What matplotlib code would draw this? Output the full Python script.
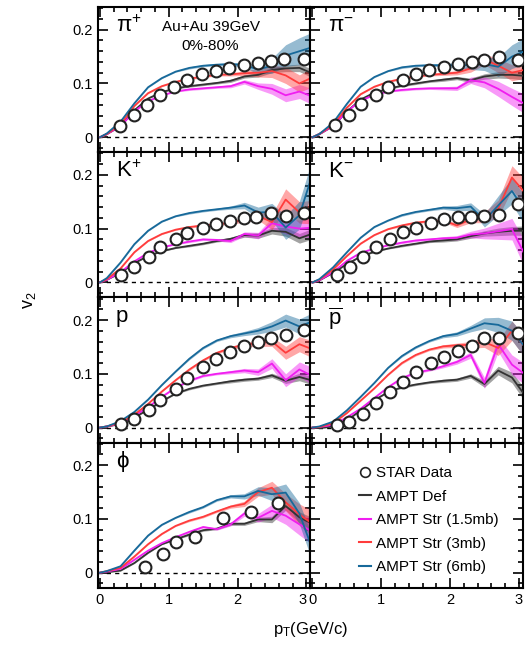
import matplotlib
matplotlib.use("Agg")
import matplotlib.pyplot as plt
from matplotlib.ticker import MultipleLocator, FuncFormatter
from matplotlib.lines import Line2D

plt.rcParams['font.family'] = ['Liberation Sans', 'DejaVu Sans']
plt.rcParams['mathtext.default'] = 'regular'

# model pT bins (GeV/c)
pt_model = [0.0, 0.1, 0.3, 0.5, 0.7, 0.9, 1.1, 1.3, 1.5, 1.7, 1.9, 2.1, 2.3, 2.5, 2.7, 2.9, 3.1]

low_err = [0.001, 0.001, 0.001, 0.001, 0.001, 0.001, 0.001, 0.002, 0.002, 0.002, 0.003]

# ---- pi+ ----
pip_pt = [0.29, 0.50, 0.68, 0.88, 1.07, 1.27, 1.49, 1.68, 1.88, 2.09, 2.30, 2.49, 2.68, 2.96]
pip_v2 = [0.021, 0.041, 0.060, 0.078, 0.093, 0.106, 0.117, 0.124, 0.128, 0.135, 0.138, 0.141, 0.146, 0.145]
pip_def = [0, 0.006, 0.021, 0.050, 0.072, 0.084, 0.091, 0.095, 0.098, 0.101, 0.105, 0.113, 0.116, 0.125, 0.128, 0.129, 0.118]
pip_s15 = [0, 0.006, 0.021, 0.048, 0.067, 0.078, 0.085, 0.089, 0.091, 0.093, 0.095, 0.103, 0.095, 0.090, 0.078, 0.085, 0.075]
pip_s3 = [0, 0.006, 0.024, 0.058, 0.082, 0.095, 0.103, 0.109, 0.113, 0.116, 0.117, 0.119, 0.120, 0.123, 0.115, 0.100, 0.112]
pip_s6 = [0, 0.007, 0.029, 0.063, 0.093, 0.110, 0.122, 0.129, 0.133, 0.135, 0.136, 0.134, 0.126, 0.133, 0.152, 0.160, 0.168]
pip_def_e = low_err + [0.003, 0.004, 0.005, 0.006, 0.007, 0.008]
pip_s15_e = low_err + [0.004, 0.006, 0.010, 0.012, 0.013, 0.015]
pip_s3_e = low_err + [0.004, 0.008, 0.012, 0.015, 0.016, 0.018]
pip_s6_e = low_err + [0.005, 0.008, 0.014, 0.020, 0.025, 0.028]

# ---- pi- ----
pim_pt = [0.33, 0.53, 0.71, 0.92, 1.10, 1.31, 1.51, 1.70, 1.91, 2.12, 2.32, 2.50, 2.71, 2.99]
pim_v2 = [0.022, 0.042, 0.062, 0.079, 0.094, 0.107, 0.118, 0.125, 0.131, 0.136, 0.140, 0.143, 0.150, 0.143]
pim_def = [0, 0.006, 0.021, 0.048, 0.070, 0.083, 0.090, 0.096, 0.100, 0.104, 0.107, 0.110, 0.106, 0.113, 0.116, 0.116, 0.114]
pim_s15 = [0, 0.006, 0.021, 0.048, 0.068, 0.079, 0.085, 0.088, 0.090, 0.091, 0.091, 0.091, 0.106, 0.102, 0.090, 0.075, 0.061]
pim_s3 = [0, 0.006, 0.023, 0.055, 0.080, 0.094, 0.103, 0.109, 0.113, 0.116, 0.118, 0.120, 0.128, 0.145, 0.133, 0.120, 0.126]
pim_s6 = [0, 0.006, 0.027, 0.062, 0.094, 0.112, 0.123, 0.130, 0.133, 0.134, 0.134, 0.134, 0.134, 0.136, 0.131, 0.150, 0.161]
pim_def_e = low_err + [0.003, 0.004, 0.005, 0.006, 0.007, 0.008]
pim_s15_e = low_err + [0.004, 0.006, 0.010, 0.014, 0.016, 0.018]
pim_s3_e = low_err + [0.004, 0.007, 0.010, 0.013, 0.015, 0.016]
pim_s6_e = low_err + [0.005, 0.008, 0.012, 0.018, 0.022, 0.025]

# ---- K+ ----
kp_pt = [0.31, 0.50, 0.71, 0.88, 1.10, 1.27, 1.50, 1.69, 1.89, 2.09, 2.27, 2.49, 2.70, 2.96]
kp_v2 = [0.014, 0.029, 0.048, 0.065, 0.080, 0.092, 0.101, 0.109, 0.115, 0.120, 0.121, 0.129, 0.123, 0.129]
kp_def = [0, 0.005, 0.018, 0.036, 0.049, 0.058, 0.064, 0.068, 0.072, 0.077, 0.081, 0.088, 0.087, 0.096, 0.094, 0.082, 0.091]
kp_s15 = [0, 0.005, 0.019, 0.039, 0.055, 0.065, 0.071, 0.076, 0.080, 0.079, 0.077, 0.090, 0.087, 0.110, 0.104, 0.100, 0.102]
kp_s3 = [0, 0.006, 0.026, 0.056, 0.077, 0.090, 0.098, 0.103, 0.106, 0.108, 0.111, 0.117, 0.124, 0.112, 0.154, 0.130, 0.131]
kp_s6 = [0, 0.008, 0.037, 0.071, 0.096, 0.113, 0.123, 0.129, 0.133, 0.136, 0.139, 0.143, 0.130, 0.131, 0.102, 0.125, 0.205]
kp_def_e = low_err + [0.004, 0.005, 0.006, 0.008, 0.009, 0.010]
kp_s15_e = low_err + [0.004, 0.006, 0.010, 0.014, 0.016, 0.018]
kp_s3_e = low_err + [0.005, 0.008, 0.014, 0.020, 0.020, 0.022]
kp_s6_e = low_err + [0.006, 0.010, 0.016, 0.022, 0.026, 0.030]

# ---- K- ----
km_pt = [0.36, 0.54, 0.74, 0.92, 1.12, 1.31, 1.51, 1.72, 1.91, 2.11, 2.30, 2.50, 2.71, 2.99]
km_v2 = [0.014, 0.029, 0.048, 0.065, 0.080, 0.094, 0.102, 0.110, 0.117, 0.121, 0.122, 0.124, 0.126, 0.146]
km_def = [0, 0.004, 0.018, 0.034, 0.048, 0.057, 0.063, 0.068, 0.072, 0.076, 0.078, 0.080, 0.086, 0.091, 0.094, 0.096, 0.096]
km_s15 = [0, 0.004, 0.019, 0.040, 0.055, 0.063, 0.069, 0.074, 0.078, 0.080, 0.082, 0.083, 0.089, 0.091, 0.095, 0.099, 0.048]
km_s3 = [0, 0.005, 0.024, 0.049, 0.072, 0.088, 0.099, 0.106, 0.111, 0.114, 0.115, 0.106, 0.117, 0.121, 0.137, 0.195, 0.165]
km_s6 = [0, 0.006, 0.028, 0.056, 0.083, 0.103, 0.115, 0.125, 0.131, 0.135, 0.139, 0.138, 0.141, 0.115, 0.143, 0.170, 0.131]
km_def_e = low_err + [0.003, 0.004, 0.005, 0.007, 0.008, 0.009]
km_s15_e = low_err + [0.004, 0.006, 0.010, 0.015, 0.020, 0.025]
km_s3_e = low_err + [0.004, 0.006, 0.010, 0.016, 0.022, 0.025]
km_s6_e = low_err + [0.005, 0.007, 0.012, 0.018, 0.024, 0.028]

# ---- p ----
p_pt = [0.31, 0.50, 0.71, 0.88, 1.10, 1.27, 1.50, 1.69, 1.89, 2.09, 2.30, 2.49, 2.70, 2.96]
p_v2 = [0.006, 0.016, 0.032, 0.051, 0.072, 0.092, 0.112, 0.127, 0.140, 0.151, 0.160, 0.166, 0.173, 0.182]
p_def = [0, 0.002, 0.007, 0.019, 0.033, 0.049, 0.063, 0.072, 0.078, 0.082, 0.086, 0.089, 0.091, 0.097, 0.087, 0.094, 0.087]
p_s15 = [0, 0.002, 0.008, 0.022, 0.038, 0.057, 0.074, 0.087, 0.096, 0.100, 0.103, 0.106, 0.103, 0.119, 0.088, 0.108, 0.095]
p_s3 = [0, 0.002, 0.009, 0.024, 0.044, 0.067, 0.088, 0.108, 0.125, 0.139, 0.148, 0.154, 0.157, 0.160, 0.139, 0.155, 0.145]
p_s6 = [0, 0.002, 0.012, 0.029, 0.052, 0.079, 0.104, 0.128, 0.148, 0.162, 0.170, 0.175, 0.180, 0.188, 0.199, 0.188, 0.198]
p_def_e = low_err + [0.003, 0.003, 0.004, 0.005, 0.007, 0.008]
p_s15_e = low_err + [0.004, 0.006, 0.009, 0.012, 0.014, 0.016]
p_s3_e = low_err + [0.004, 0.006, 0.009, 0.012, 0.014, 0.016]
p_s6_e = low_err + [0.004, 0.006, 0.009, 0.012, 0.014, 0.016]

# ---- pbar ----
pb_pt = [0.36, 0.53, 0.74, 0.92, 1.12, 1.31, 1.51, 1.73, 1.91, 2.11, 2.32, 2.50, 2.71, 2.99]
pb_v2 = [0.005, 0.011, 0.026, 0.045, 0.066, 0.085, 0.103, 0.120, 0.132, 0.143, 0.152, 0.166, 0.166, 0.176]
pb_def = [0, -0.001, 0.002, 0.013, 0.032, 0.051, 0.066, 0.075, 0.080, 0.084, 0.087, 0.089, 0.096, 0.081, 0.106, 0.093, 0.058]
pb_s15 = [0, 0.001, 0.005, 0.019, 0.035, 0.055, 0.075, 0.092, 0.102, 0.107, 0.114, 0.122, 0.135, 0.083, 0.155, 0.117, 0.098]
pb_s3 = [0, 0.001, 0.008, 0.027, 0.050, 0.073, 0.098, 0.120, 0.135, 0.145, 0.151, 0.153, 0.154, 0.159, 0.148, 0.180, 0.148]
pb_s6 = [0, 0.002, 0.011, 0.032, 0.057, 0.083, 0.111, 0.133, 0.149, 0.161, 0.170, 0.174, 0.184, 0.194, 0.191, 0.180, 0.148]
pb_def_e = low_err + [0.003, 0.004, 0.006, 0.008, 0.010, 0.012]
pb_s15_e = low_err + [0.004, 0.006, 0.010, 0.014, 0.018, 0.020]
pb_s3_e = low_err + [0.004, 0.006, 0.010, 0.014, 0.018, 0.020]
pb_s6_e = low_err + [0.004, 0.006, 0.010, 0.014, 0.018, 0.020]

# ---- phi ----
phi_pt = [0.66, 0.91, 1.11, 1.38, 1.79, 2.19, 2.59]
phi_v2 = [0.011, 0.035, 0.057, 0.067, 0.102, 0.113, 0.130]
phi_def = [0, 0.001, 0.004, 0.018, 0.037, 0.053, 0.062, 0.071, 0.079, 0.082, 0.091, 0.091, 0.099, 0.099, 0.124, 0.103, 0.090]
phi_s15 = [0, 0.002, 0.007, 0.024, 0.041, 0.055, 0.066, 0.076, 0.085, 0.081, 0.090, 0.110, 0.102, 0.115, 0.106, 0.090, 0.075]
phi_s3 = [0, 0.003, 0.009, 0.030, 0.053, 0.072, 0.087, 0.097, 0.104, 0.114, 0.123, 0.128, 0.150, 0.158, 0.131, 0.108, 0.090]
phi_s6 = [0, 0.003, 0.012, 0.041, 0.069, 0.089, 0.102, 0.113, 0.122, 0.135, 0.142, 0.142, 0.152, 0.146, 0.149, 0.110, 0.040]
phi_def_e = low_err + [0.003, 0.004, 0.006, 0.008, 0.010, 0.012]
phi_s15_e = low_err + [0.005, 0.008, 0.012, 0.016, 0.020, 0.024]
phi_s3_e = low_err + [0.005, 0.008, 0.012, 0.016, 0.020, 0.024]
phi_s6_e = low_err + [0.005, 0.008, 0.012, 0.016, 0.020, 0.024]

panel_names = ['π$^{+}$', 'π$^{-}$', 'K$^{+}$', 'K$^{-}$', 'p', r'$\overline{p}$', 'ϕ']
model_labels = ['AMPT Def', 'AMPT Str (1.5mb)', 'AMPT Str (3mb)', 'AMPT Str (6mb)']
model_colors = ['#333333', '#f01ef0', '#ff3c3c', '#17699a']

panels = [
    (pip_pt, pip_v2, [pip_def, pip_s15, pip_s3, pip_s6], [pip_def_e, pip_s15_e, pip_s3_e, pip_s6_e]),
    (pim_pt, pim_v2, [pim_def, pim_s15, pim_s3, pim_s6], [pim_def_e, pim_s15_e, pim_s3_e, pim_s6_e]),
    (kp_pt, kp_v2, [kp_def, kp_s15, kp_s3, kp_s6], [kp_def_e, kp_s15_e, kp_s3_e, kp_s6_e]),
    (km_pt, km_v2, [km_def, km_s15, km_s3, km_s6], [km_def_e, km_s15_e, km_s3_e, km_s6_e]),
    (p_pt, p_v2, [p_def, p_s15, p_s3, p_s6], [p_def_e, p_s15_e, p_s3_e, p_s6_e]),
    (pb_pt, pb_v2, [pb_def, pb_s15, pb_s3, pb_s6], [pb_def_e, pb_s15_e, pb_s3_e, pb_s6_e]),
    (phi_pt, phi_v2, [phi_def, phi_s15, phi_s3, phi_s6], [phi_def_e, phi_s15_e, phi_s3_e, phi_s6_e]),
]


def style_axis(ax):
    ax.set_xlim(-0.03, 3.06)
    ax.set_ylim(-0.028, 0.242)
    ax.xaxis.set_major_locator(MultipleLocator(1))
    ax.xaxis.set_minor_locator(MultipleLocator(0.2))
    ax.yaxis.set_major_locator(MultipleLocator(0.1))
    ax.yaxis.set_minor_locator(MultipleLocator(0.02))
    ax.yaxis.set_major_formatter(FuncFormatter(lambda v, p: '0' if abs(v) < 1e-9 else f'{v:g}'))
    ax.tick_params(which='both', direction='in', top=True, right=True, labelsize=10.5, width=1.2)
    ax.tick_params(which='major', length=7)
    ax.tick_params(which='minor', length=3.5)
    for s in ax.spines.values():
        s.set_linewidth(1.5)


fig, axes = plt.subplots(4, 2, figsize=(5.32, 6.48), dpi=100, sharex=True, sharey=True)
fig.subplots_adjust(left=0.184, right=0.983, top=0.989, bottom=0.093, hspace=0, wspace=0)
axes = axes.flatten()

for i, (pt, v2, models, errs) in enumerate(panels):
    ax = axes[i]
    style_axis(ax)
    ax.axhline(0, color='black', ls=(0, (3, 3)), lw=1.0, zorder=1)
    for m, e, c in zip(models, errs, model_colors):
        lo = [a - b for a, b in zip(m, e)]
        hi = [a + b for a, b in zip(m, e)]
        ax.fill_between(pt_model, lo, hi, color=c, alpha=0.45, lw=0, zorder=2)
        ax.plot(pt_model, m, color=c, lw=1.3, zorder=3)
    ax.plot(pt, v2, 'o', ms=8.5, mfc='white', mec='#222222', mew=1.5, zorder=5)
    ax.text(0.085, 0.94, panel_names[i], transform=ax.transAxes, ha='left', va='top', fontsize=16)

axes[0].text(0.53, 0.86, 'Au+Au 39GeV', transform=axes[0].transAxes, ha='center', va='center', fontsize=11)
axes[0].text(0.53, 0.735, '0%-80%', transform=axes[0].transAxes, ha='center', va='center', fontsize=11)

# nudge the left "3" so it sits just left of the right panel's "0", as in the reference
for lbl in axes[6].get_xticklabels():
    if lbl.get_text() == '3':
        lbl.set_horizontalalignment('right')

# legend panel
lax = axes[7]
style_axis(lax)
handles = [Line2D([], [], ls='none', marker='o', ms=7, mfc='white', mec='#222222', mew=1.2)]
handles += [Line2D([], [], color=c, lw=1.5) for c in model_colors]
lax.legend(handles, ['STAR Data'] + model_labels, loc='upper left', bbox_to_anchor=(0.2, 0.88),
           frameon=False, fontsize=11, handlelength=0.8, handletextpad=0.3, labelspacing=0.62,
           borderaxespad=0)

fig.text(0.055, 0.537, 'v$_{2}$', rotation=90, ha='center', va='center', fontsize=13)
fig.text(0.583, 0.028, 'p$_{T}$(GeV/c)', ha='center', va='center', fontsize=12)

fig.savefig('out.png', dpi=100)
